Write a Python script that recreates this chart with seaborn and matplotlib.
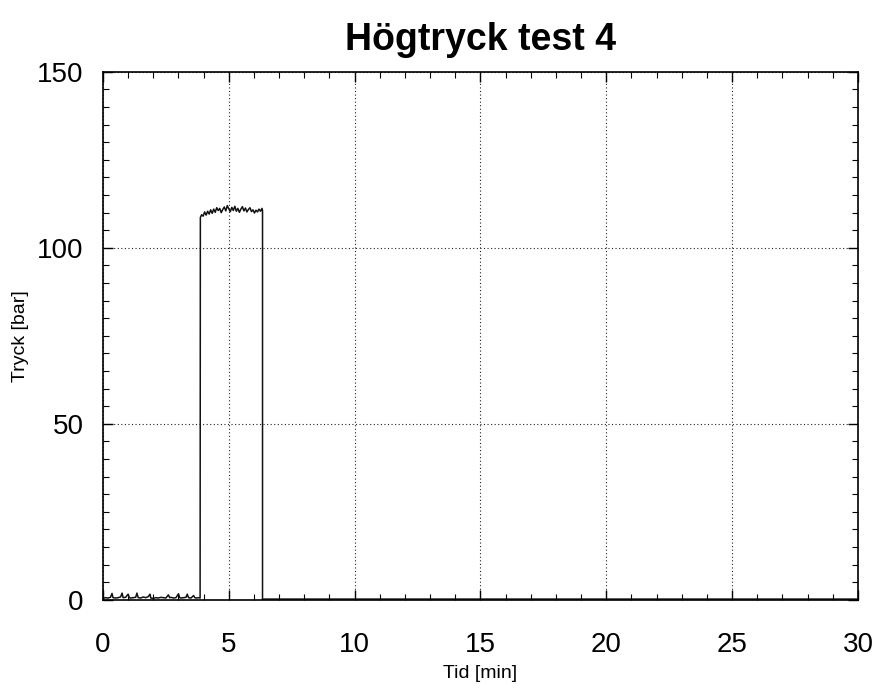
import matplotlib
matplotlib.use("Agg")
import matplotlib.pyplot as plt
from matplotlib.ticker import MultipleLocator
import pandas as pd
import seaborn as sns

# Pressure log, high-pressure test 4
idle_time = [0.0, 0.1, 0.2, 0.3, 0.36, 0.4, 0.5, 0.6, 0.7, 0.76, 0.8, 0.9, 1.0, 1.05,
             1.1, 1.2, 1.3, 1.35, 1.4, 1.5, 1.6, 1.7, 1.8, 1.87, 1.9, 2.0, 2.1, 2.2,
             2.3, 2.4, 2.5, 2.6, 2.65, 2.7, 2.8, 2.9, 3.0, 3.05, 3.1, 3.2, 3.3, 3.35,
             3.4, 3.5, 3.6, 3.65, 3.7, 3.8, 3.86]
idle_pressure = [0.4, 0.6, 0.5, 0.7, 1.8, 0.6, 0.5, 0.6, 0.8, 1.9, 0.6, 0.7, 1.6, 0.6,
                 0.5, 0.6, 0.7, 1.9, 0.6, 0.5, 0.8, 0.6, 0.9, 1.6, 0.5, 0.4, 0.6, 0.5,
                 0.7, 0.6, 0.5, 1.4, 0.6, 0.7, 0.5, 0.6, 1.7, 0.6, 0.5, 0.6, 0.7, 1.6,
                 0.6, 0.5, 1.2, 0.6, 0.5, 0.6, 0.5]

plateau_time = [3.87, 3.92, 3.98, 4.04, 4.10, 4.16, 4.22, 4.28, 4.34, 4.40, 4.46, 4.52,
                4.58, 4.64, 4.70, 4.76, 4.82, 4.88, 4.94, 5.00, 5.06, 5.12, 5.18, 5.24,
                5.30, 5.36, 5.42, 5.48, 5.54, 5.60, 5.66, 5.72, 5.78, 5.84, 5.90, 5.96,
                6.02, 6.08, 6.14, 6.20, 6.26, 6.32, 6.34]
plateau_pressure = [108.6, 109.4, 109.0, 110.2, 109.3, 110.4, 109.6, 110.8, 109.8, 111.0,
                    110.1, 111.4, 110.6, 111.2, 110.0, 110.9, 111.6, 110.5, 112.0, 111.1,
                    110.3, 111.5, 110.6, 111.8, 110.4, 111.2, 110.1, 111.0, 111.7, 110.5,
                    111.3, 110.2, 110.9, 111.4, 110.3, 110.8, 109.9, 110.7, 110.2, 111.0,
                    110.4, 111.2, 110.6]

tail_time = [6.34, 6.40, 30.0]
tail_pressure = [0.0, 0.2, 0.2]

x_ticks = [0, 5, 10, 15, 20, 25, 30]
y_ticks = [0, 50, 100, 150]

time = idle_time + plateau_time + tail_time
pressure = idle_pressure + plateau_pressure + tail_pressure
df = pd.DataFrame({"Tid [min]": time, "Tryck [bar]": pressure})

sns.set_theme(style="ticks")
plt.rcParams["font.family"] = ["Liberation Sans", "DejaVu Sans"]
plt.rcParams["text.color"] = "black"
plt.rcParams["axes.labelcolor"] = "black"
plt.rcParams["xtick.color"] = "black"
plt.rcParams["ytick.color"] = "black"

fig = plt.figure(figsize=(8.8, 6.91), dpi=100)
ax = fig.add_axes([0.117, 0.132, 0.858, 0.764])

sns.lineplot(data=df, x="Tid [min]", y="Tryck [bar]", ax=ax, estimator=None,
             sort=False, color="#111111", linewidth=1.1)

ax.set_xlim(0, 30)
ax.set_ylim(0, 150)
ax.set_xticks(x_ticks)
ax.set_yticks(y_ticks)
ax.xaxis.set_minor_locator(MultipleLocator(1))
ax.yaxis.set_minor_locator(MultipleLocator(5))

ax.grid(True, which="major", linestyle=(0, (1, 2.2)), color="#222222", linewidth=0.8)
for side in ["top", "right", "bottom", "left"]:
    ax.spines[side].set_visible(True)
    ax.spines[side].set_color("black")
    ax.spines[side].set_linewidth(1.2)

ax.tick_params(which="both", direction="in", top=True, right=True, color="black")
ax.tick_params(which="major", length=7, width=1.0)
ax.tick_params(which="minor", length=4, width=0.8)
ax.tick_params(axis="x", which="major", labelsize=20, pad=23)
ax.tick_params(axis="y", which="major", labelsize=20, pad=14)

ax.set_xlabel("Tid [min]", fontsize=14, labelpad=5)
ax.set_ylabel("Tryck [bar]", fontsize=14, labelpad=6)
ax.set_title("Högtryck test 4", fontsize=27, fontweight="bold", pad=16)

fig.savefig("out.png", dpi=100)
